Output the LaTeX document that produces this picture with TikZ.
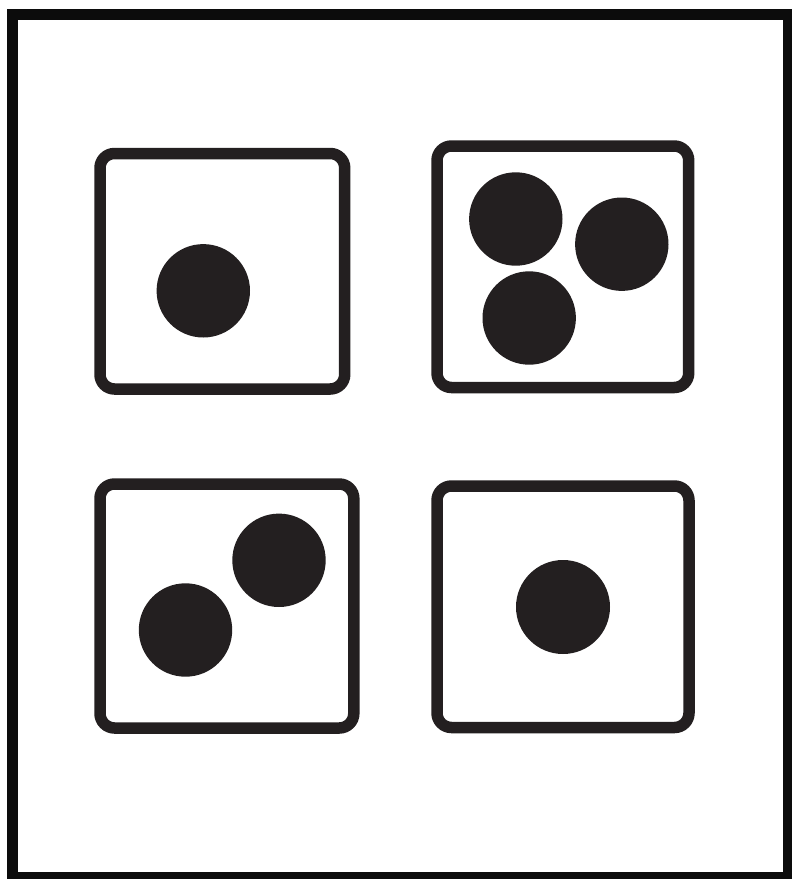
\documentclass[tikz,border=0pt]{standalone}
\definecolor{ink}{RGB}{35,31,32}
\definecolor{frameink}{RGB}{12,12,12}
\begin{document}
\begin{tikzpicture}[x=1pt,y=-1pt,
  diebox/.style={draw=ink,line width=11.5pt,rounded corners=14.5pt},
  pip/.style={fill=ink,draw=none},
  outerframe/.style={draw=frameink,line width=11pt}]
\useasboundingbox (0,0) rectangle (792,879);
% outer frame
\draw[outerframe] (12,14) rectangle (788,877.5);
% top-left die
\draw[diebox] (100,153.5) rectangle (344.7,389);
\fill[pip] (203.3,290.8) circle (46.7);
% top-right die
\draw[diebox] (437,146) rectangle (688.7,387.5);
\fill[pip] (515.8,219) circle (46.7);
\fill[pip] (621.8,244.2) circle (46.7);
\fill[pip] (529.2,318) circle (46.7);
% bottom-left die
\draw[diebox] (100,484) rectangle (353.8,728);
\fill[pip] (279,560.3) circle (46.7);
\fill[pip] (185.5,630) circle (46.7);
% bottom-right die
\draw[diebox] (437,486) rectangle (689,727.5);
\fill[pip] (563,607) circle (47);
\end{tikzpicture}
\end{document}
